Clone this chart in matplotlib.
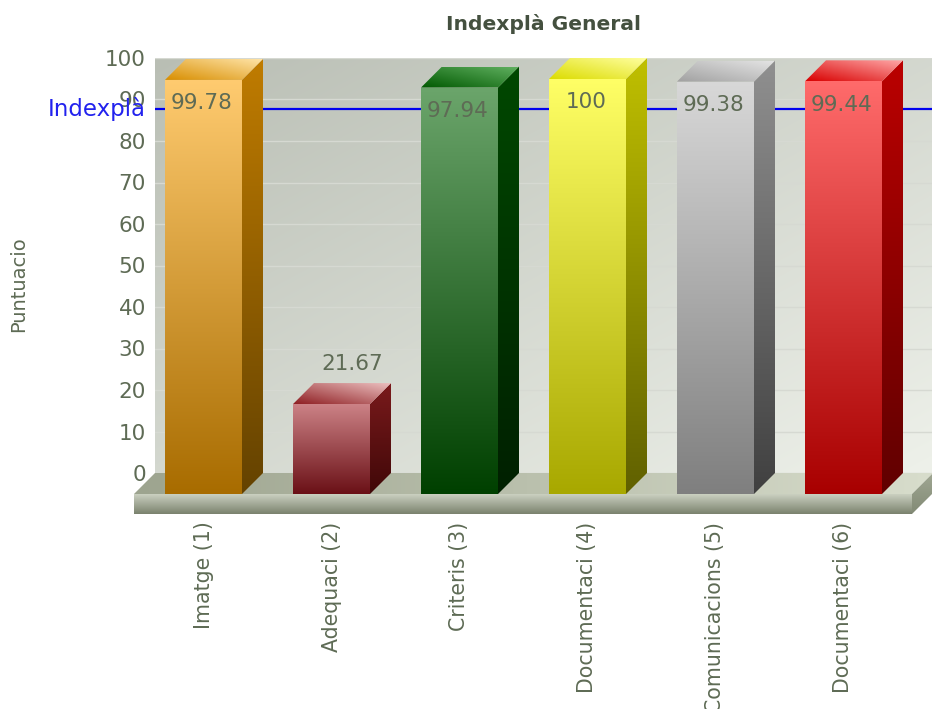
import matplotlib
matplotlib.use('Agg')
import matplotlib.pyplot as plt
from matplotlib.colors import to_rgb
from matplotlib.patches import Polygon
import numpy as np

categories = ['Imatge (1)', 'Adequaci (2)', 'Criteris (3)', 'Documentaci (4)',
              'Comunicacions (5)', 'Documentaci (6)']
values = [99.78, 21.67, 97.94, 100, 99.38, 99.44]
index_value = 87.7
yticks = list(range(0, 101, 10))

# colours per bar: front top/bottom, side top/bottom, lid left/right
front_top = ['#FFCB70', '#CC8286', '#6BA56B', '#FFFF66', '#D8D8D8', '#FF6B6B']
front_bot = ['#A86C00', '#6A1016', '#004000', '#A8A800', '#7F7F7F', '#A80000']
side_top = ['#C07C00', '#7A1A1C', '#004800', '#C0C000', '#909090', '#BB0000']
side_bot = ['#644200', '#400808', '#002000', '#606000', '#404040', '#600000']
lid_left = ['#D88E00', '#8E1E22', '#005800', '#DCDC00', '#A0A0A0', '#D80000']
lid_right = ['#FFE4A8', '#ECC0C0', '#60B060', '#FFFFA0', '#E4E4E4', '#FFA8A8']

text_col = '#5E6B55'
W, H = 932, 709
px_x = 128.0   # pixels per category
px_y = 4.15    # pixels per unit
bar_w = 77 / px_x
dx = 21 / px_x
dy = 21 / px_y

fig = plt.figure(figsize=(W / 100, H / 100), dpi=100)
ax = fig.add_axes([155 / W, 1 - 473 / H, 777 / W, 415 / H])
x0 = -48.5 / px_x
x1 = x0 + 777 / px_x


def shade(points, c1, c2, direction, zorder):
    # polygon filled with a gradient, clipped image over its bounding box
    pts = np.array(points)
    n = 256
    u, v = np.meshgrid(np.linspace(0, 1, n), np.linspace(0, 1, n))
    if direction == 'v':
        t = v
    elif direction == 'h':
        t = u
    elif direction == 'up':
        t = (u + 1 - v) / 2
    else:
        t = (u + v) / 2
    a, b = np.array(to_rgb(c1)), np.array(to_rgb(c2))
    img = a + (b - a) * t[..., None]
    im = ax.imshow(img, extent=[pts[:, 0].min(), pts[:, 0].max(), pts[:, 1].min(), pts[:, 1].max()],
                   origin='upper', aspect='auto', interpolation='bilinear', zorder=zorder)
    clip = Polygon(pts, closed=True, transform=ax.transData, fc='none', ec='none')
    ax.add_patch(clip)
    im.set_clip_box(fig.bbox)
    im.set_clip_path(clip)


# wall
shade([(x0, 0), (x1, 0), (x1, 100), (x0, 100)], '#B9BEB4', '#EEF1EA', 'd', 0)
ax.set_axisbelow(True)
ax.yaxis.grid(True, color='#D6D9D2', lw=1)
ax.axhline(index_value, color='#0000EE', lw=1.6, zorder=1)

# floor
fl = x0 - dx
fr = x0 + 757 / px_x
floor_h = 20 / px_y
shade([(fl, -dy), (x0, 0), (fr + dx, 0), (fr, -dy)], '#9DA48F', '#D8DDCC', 'h', 2)
shade([(fl, -dy), (fr, -dy), (fr, -dy - floor_h), (fl, -dy - floor_h)], '#CBD0C1', '#7A826D', 'v', 2)
shade([(fr, -dy), (fr + dx, 0), (fr + dx, -floor_h), (fr, -dy - floor_h)], '#A0A793', '#828A75', 'v', 2)

# bars
for i, val in enumerate(values):
    l = i - bar_w / 2
    r = i + bar_w / 2
    top = val - dy
    z = 3 + i
    shade([(r, -dy), (r + dx, 0), (r + dx, val), (r, top)], side_top[i], side_bot[i], 'v', z)
    shade([(l, top), (r, top), (r + dx, val), (l + dx, val)], lid_left[i], lid_right[i], 'up', z)
    shade([(l, top), (r, top), (r, -dy), (l, -dy)], front_top[i], front_bot[i], 'v', z)
    if val > 50:
        ax.text(i - 0.012, top - 5.6, val, ha='center', va='center', fontsize=15.5, color=text_col, zorder=10)
    else:
        ax.text(i + dx, val + 4.6, val, ha='center', va='center', fontsize=15.5, color=text_col, zorder=10)

ax.set_xlim(x0, x1)
ax.set_ylim(0, 100)
for s in ax.spines.values():
    s.set_visible(False)
ax.set_yticks(yticks)
ax.set_xticks(range(len(categories)))
ax.set_xticklabels(categories, rotation=90, fontsize=14.8, color=text_col)
ax.tick_params(axis='y', length=0, pad=6.5, labelsize=15.5, labelcolor=text_col)
ax.tick_params(axis='x', length=0, pad=35)

ax.set_title('Indexplà General', fontsize=14.6, fontweight='bold', color='#44503F', pad=20.5)
ax.set_ylabel('Puntuacio', fontsize=14, color=text_col, va='center')
ax.yaxis.set_label_coords(-0.175, 0.455)
ax.text(x0 - 9 / px_x, index_value, 'Indexplà', ha='right', va='center', fontsize=16.5, color='#2222EE', zorder=12)

fig.savefig('out.png', dpi=100, facecolor='white')
